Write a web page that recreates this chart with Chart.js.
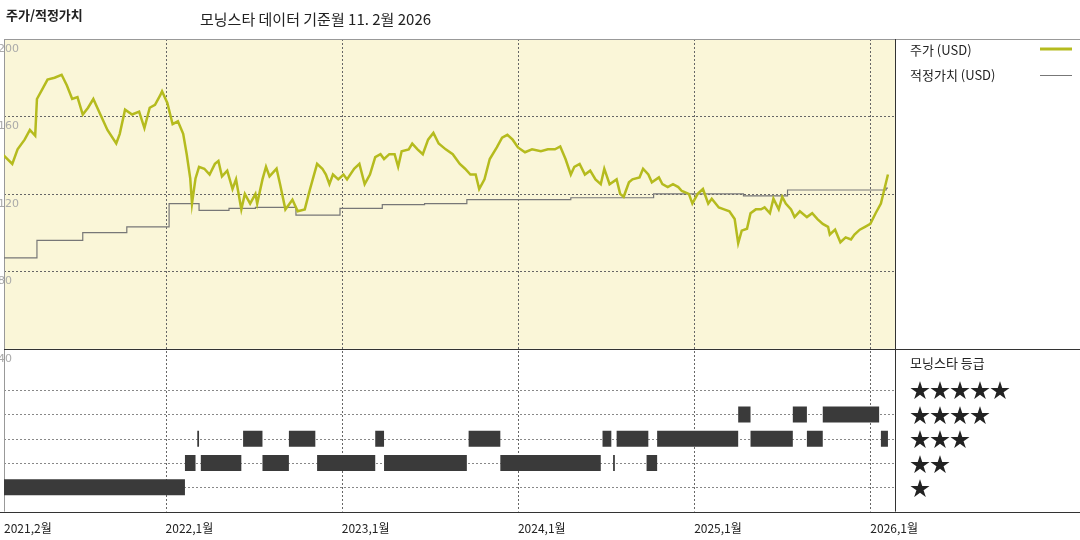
<!DOCTYPE html>
<html><head><meta charset="utf-8">
<script src="https://cdn.jsdelivr.net/npm/chart.js@4/dist/chart.umd.min.js"></script>
<style>
body{margin:0;background:#fff;font-family:"Noto Sans CJK KR",sans-serif;}
#wrap{position:relative;width:1080px;height:540px;}
canvas{position:absolute;left:0;top:0;}
.t{position:absolute;white-space:nowrap;color:#222;}
</style></head><body><div id="wrap"><canvas id="c" width="1080" height="540"></canvas>
<div class="t" style="left:6px;top:5px;font-size:13px;font-weight:bold;">주가/적정가치</div>
<div class="t" style="left:200px;top:8px;font-size:15px;">모닝스타 데이터 기준월 11. 2월 2026</div>
<div class="t" style="left:910px;top:40px;font-size:13px;">주가 (USD)</div>
<div class="t" style="left:910px;top:65px;font-size:13px;">적정가치 (USD)</div>
<div class="t" style="left:910px;top:353px;font-size:13px;">모닝스타 등급</div>
<div class="t" style="left:910px;top:378px;font-size:20px;line-height:24.5px;">★★★★★<br>★★★★<br>★★★<br>★★<br>★</div>
</div>
<script>
const priceDates=[2021.08,2021.13,2021.16,2021.20,2021.23,2021.26,2021.27,2021.30,2021.33,2021.37,2021.41,2021.44,2021.47,2021.50,2021.53,2021.56,2021.59,2021.63,2021.67,2021.72,2021.74,2021.77,2021.81,2021.85,2021.88,2021.91,2021.94,2021.97,2021.98,2022.01,2022.04,2022.07,2022.10,2022.12,2022.14,2022.15,2022.17,2022.19,2022.22,2022.25,2022.28,2022.30,2022.32,2022.35,2022.38,2022.40,2022.43,2022.45,2022.48,2022.51,2022.52,2022.55,2022.57,2022.59,2022.63,2022.65,2022.68,2022.72,2022.75,2022.79,2022.82,2022.84,2022.86,2022.89,2022.91,2022.93,2022.95,2022.98,2023.01,2023.03,2023.07,2023.10,2023.13,2023.16,2023.19,2023.22,2023.24,2023.27,2023.30,2023.32,2023.34,2023.38,2023.40,2023.43,2023.46,2023.49,2023.52,2023.55,2023.59,2023.63,2023.67,2023.70,2023.73,2023.76,2023.78,2023.81,2023.84,2023.88,2023.91,2023.94,2023.97,2024.00,2024.04,2024.08,2024.13,2024.17,2024.21,2024.24,2024.27,2024.30,2024.32,2024.35,2024.38,2024.41,2024.44,2024.47,2024.49,2024.52,2024.56,2024.58,2024.60,2024.63,2024.65,2024.69,2024.71,2024.74,2024.76,2024.80,2024.82,2024.85,2024.88,2024.91,2024.93,2024.97,2024.99,2025.02,2025.05,2025.08,2025.10,2025.14,2025.17,2025.20,2025.23,2025.25,2025.27,2025.30,2025.32,2025.35,2025.38,2025.40,2025.43,2025.45,2025.48,2025.50,2025.52,2025.55,2025.57,2025.60,2025.64,2025.67,2025.70,2025.73,2025.76,2025.77,2025.80,2025.83,2025.86,2025.89,2025.91,2025.94,2025.97,2026.00,2026.03,2026.06,2026.08,2026.10];
const priceValues=[140,135.5,143,148,153,150,169,174,179,180,181.5,176,169,170,161,164.5,169,161,153,146,151,163.5,161,162.5,154,164.5,166,171,173,167,156,157.5,151,140.5,128,115,128,134,133,130,135.5,137,129,132,122.5,127.5,112,120,115,120,115,127.5,134,129,133,125,112,117,111,112,122.5,129,135.5,133,130,125,130,127.5,130,127.5,133,135.5,125,130,139,140.5,138,140.5,140.5,134,142,143,146,143,140.5,148,151.5,146,143,140.5,135.5,133,130,130,122.5,127.5,138,144,149,150.5,148,144,141.5,143,142,143,143,144.5,138,130,134,135.5,130,132,127.5,125,133,125,127.5,120,118.5,126,127.5,128.5,133,130,126,128.5,125,123.5,125,123.5,121.5,120,115,120,122.5,115,117.5,113,112,111,107,94.5,101,102,110,112,112,113,110,117.5,112,118.5,115,112,108,111,108,110,107,104.5,103,99,101.5,95,97.5,96.5,99,101.5,103,104.5,110,115,122.5,130];
const fairDates=[2021.08,2021.27,2021.53,2021.78,2022.02,2022.19,2022.36,2022.51,2022.74,2022.99,2023.23,2023.47,2023.71,2024.30,2024.77,2025.28,2025.53,2026.09,2026.10];
const fairValues=[87,96,100,103,115,111.5,112.5,113,109,112.5,114.5,115,117,118,120,119,122,123,123];
const rating1=[[2021.08,2022.11]];
const rating2=[[2022.11,2022.17],[2022.20,2022.43],[2022.55,2022.70],[2022.86,2023.19],[2023.24,2023.71],[2023.90,2024.47],[2024.54,2024.55],[2024.73,2024.79]];
const rating3=[[2022.18,2022.19],[2022.44,2022.55],[2022.70,2022.85],[2023.19,2023.24],[2023.72,2023.90],[2024.48,2024.53],[2024.56,2024.74],[2024.79,2025.25],[2025.32,2025.56],[2025.64,2025.73],[2026.06,2026.10]];
const rating4=[[2025.25,2025.32],[2025.56,2025.64],[2025.73,2026.05]];
const xTicks=[2021.083,2022,2023,2024,2025,2026];
const xTickLabels=['2021,2월','2022,1월','2023,1월','2024,1월','2025,1월','2026,1월'];
const yTicks=[40,80,120,160,200];

function segs(list,r){const o=[];list.forEach(([s,e])=>{o.push({x:s,y:r},{x:e,y:r},{x:e,y:null});});return o;}
function rds(list,r){return {type:'line',data:segs(list,r),yAxisID:'yR',borderColor:'#3a3a3a',borderWidth:16,borderCapStyle:'butt',pointRadius:0,spanGaps:false,order:5};}

const deco={id:'deco',beforeDraw(ch){const c=ch.ctx,a=ch.chartArea,y=ch.scales.y;
 c.save();c.fillStyle='#faf6d8';c.fillRect(a.left,y.top,a.right-a.left,y.bottom-y.top);
 c.strokeStyle='#666';c.lineWidth=1;c.setLineDash([2,2]);
 xTicks.slice(1).forEach(v=>{const px=Math.round(ch.scales.x.getPixelForValue(v))+0.5;c.beginPath();c.moveTo(px,a.top);c.lineTo(px,a.bottom);c.stroke();});
 [80,120,160].forEach(v=>{const py=Math.round(y.getPixelForValue(v))+0.5;c.beginPath();c.moveTo(a.left,py);c.lineTo(a.right,py);c.stroke();});
 c.strokeStyle='#888';[1,2,3,4,5].forEach(v=>{const py=Math.round(ch.scales.yR.getPixelForValue(v))+0.5;c.beginPath();c.moveTo(a.left,py);c.lineTo(a.right,py);c.stroke();});
 c.setLineDash([]);c.strokeStyle='#999';c.beginPath();c.moveTo(a.left+0.5,a.top);c.lineTo(a.left+0.5,a.bottom);c.stroke();
 c.restore();},
 afterDraw(ch){const c=ch.ctx,a=ch.chartArea,y=ch.scales.y;c.save();c.lineWidth=1;
 c.strokeStyle='#999';c.beginPath();c.moveTo(a.left,a.top+0.5);c.lineTo(1080,a.top+0.5);c.stroke();
 c.strokeStyle='#333';c.beginPath();c.moveTo(a.right+0.5,a.top);c.lineTo(a.right+0.5,a.bottom);c.stroke();
 c.beginPath();c.moveTo(a.left,Math.round(y.bottom)+0.5);c.lineTo(1080,Math.round(y.bottom)+0.5);c.stroke();
 c.beginPath();c.moveTo(0,Math.round(a.bottom)+0.5);c.lineTo(1080,Math.round(a.bottom)+0.5);c.stroke();
 c.lineWidth=3;c.strokeStyle='#b5bb1e';c.beginPath();c.moveTo(1040,49);c.lineTo(1072,49);c.stroke();
 c.lineWidth=1;c.strokeStyle='#777';c.beginPath();c.moveTo(1040,75.5);c.lineTo(1072,75.5);c.stroke();
 c.restore();}};

new Chart(document.getElementById('c'),{type:'line',
 data:{datasets:[
  {data:priceDates.map((d,i)=>({x:d,y:priceValues[i]})),yAxisID:'y',borderColor:'#b5bb1e',borderWidth:2.5,pointRadius:0,tension:0,order:1},
  {data:fairDates.map((d,i)=>({x:d,y:fairValues[i]})),yAxisID:'y',borderColor:'#777',borderWidth:1.2,pointRadius:0,stepped:'before',order:2},
  rds(rating1,1),rds(rating2,2),rds(rating3,3),rds(rating4,4)]},
 options:{responsive:false,animation:false,events:[],
  layout:{padding:{left:4,right:185,top:39,bottom:2}},
  plugins:{legend:{display:false},tooltip:{enabled:false}},
  scales:{
   x:{type:'linear',min:2021.083,max:2026.14,grid:{display:false},border:{display:false},
      afterBuildTicks(s){s.ticks=xTicks.map(v=>({value:v}));},
      ticks:{autoSkip:false,maxRotation:0,align:'start',padding:2,color:'#222',font:{family:'Noto Sans CJK KR',size:12},callback:(v,i)=>xTickLabels[i]}},
   yR:{type:'linear',min:0,max:6.7,stack:'s',stackWeight:164,grid:{display:false,drawTicks:false},border:{display:false},ticks:{display:false}},
   y:{type:'linear',min:40,max:200,stack:'s',stackWeight:312,offset:false,grid:{display:false,drawTicks:false},border:{display:false},
      afterBuildTicks(s){s.ticks=yTicks.map(v=>({value:v}));},
      ticks:{mirror:true,padding:-2,labelOffset:10,color:'#aaa',font:{family:'DejaVu Sans',size:11}}}
  }},
 plugins:[deco]});
</script></body></html>
